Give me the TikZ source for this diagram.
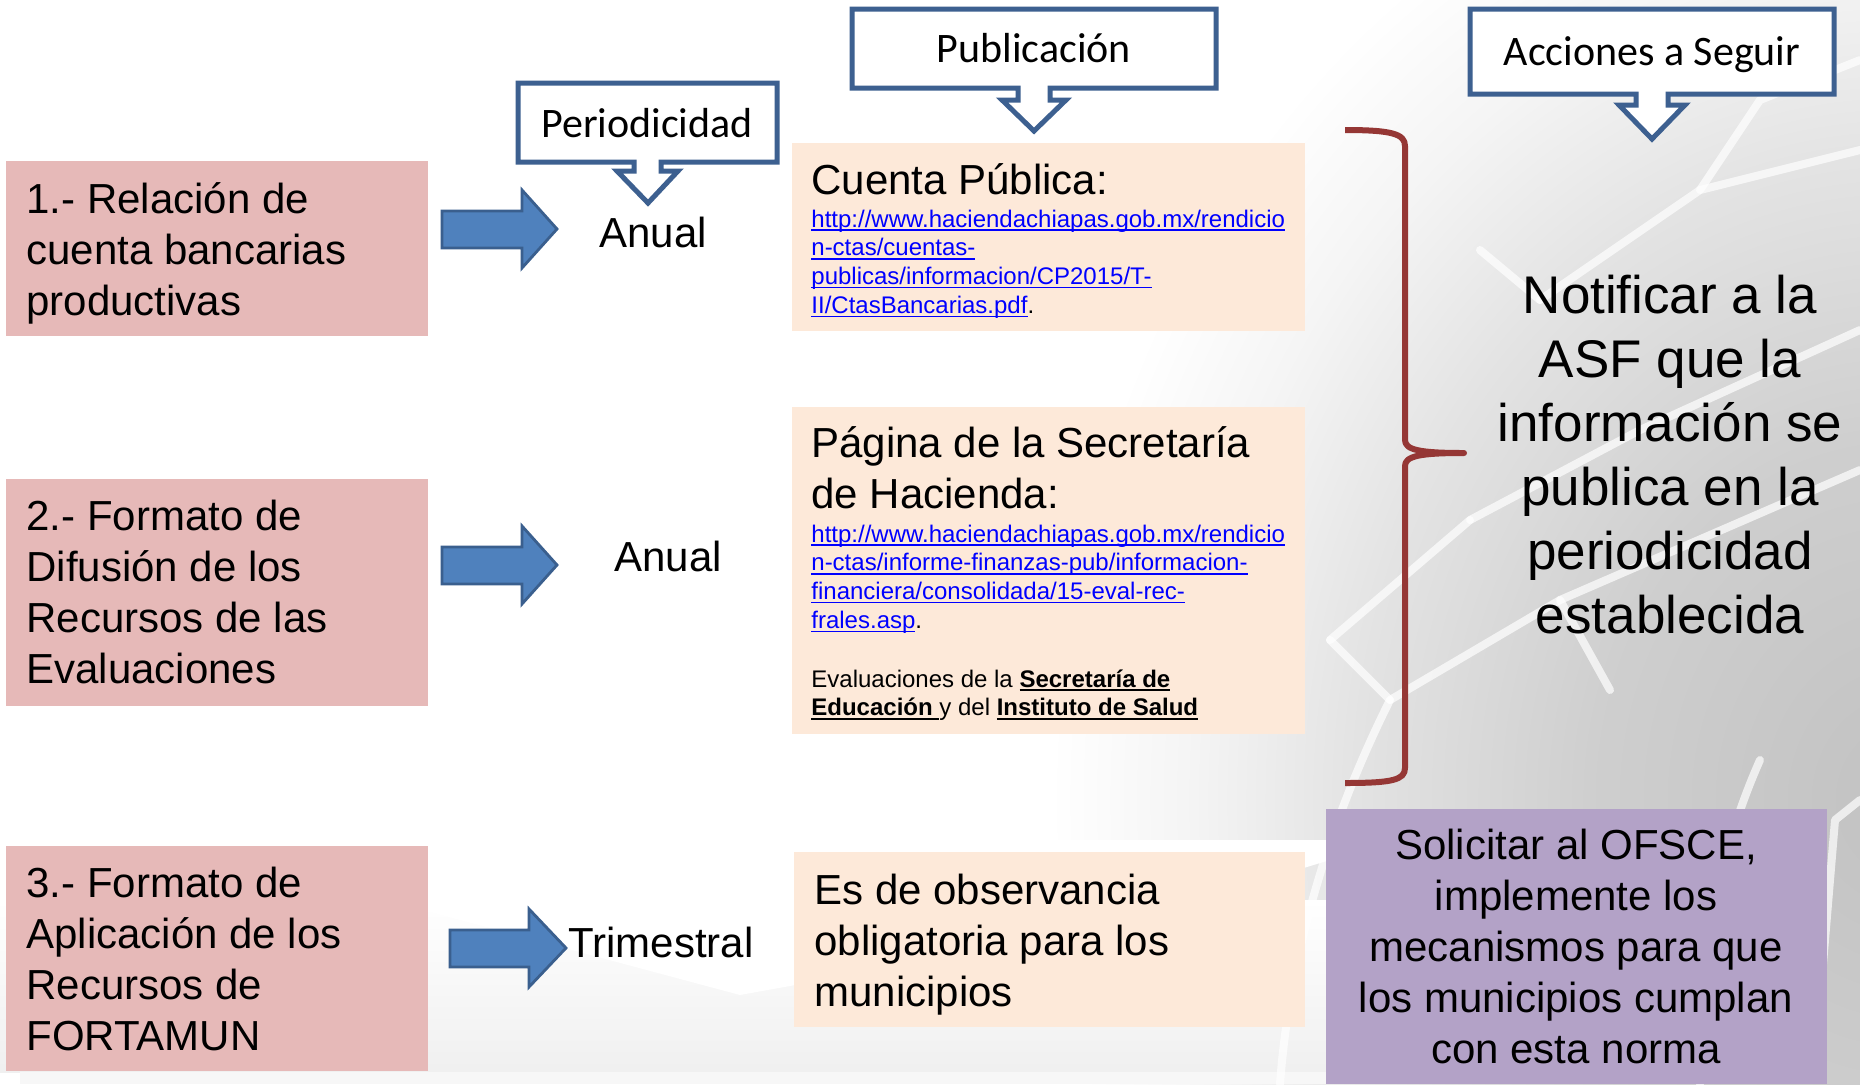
\documentclass[tikz,border=0pt]{standalone}
\usepackage{fontspec}
\setmainfont{Liberation Sans}
\newfontfamily\calfont{Carlito}
\definecolor{pinkbox}{HTML}{E6B9B8}
\definecolor{peach}{HTML}{FDE9D9}
\definecolor{lilac}{HTML}{B3A2C7}
\definecolor{arrowfill}{HTML}{4F81BD}
\definecolor{arrowline}{HTML}{3A5F8E}
\definecolor{callline}{HTML}{3D6090}
\definecolor{bracecol}{HTML}{953735}
\definecolor{urlblue}{HTML}{0000FF}
\pgfdeclareradialshading{bgrad}{\pgfpoint{0bp}{0bp}}{color(0bp)=(black!24); color(9bp)=(black!19); color(16bp)=(black!11); color(21bp)=(black!4); color(25bp)=(white); color(50bp)=(white)}
\newsavebox{\ulbox}
\newcommand{\ul}[1]{\leavevmode\sbox{\ulbox}{#1}\rlap{\rule[-1.9pt]{\wd\ulbox}{0.8pt}}\usebox{\ulbox}}
\begin{document}
\begin{tikzpicture}[x=0.5pt,y=-0.5pt,
  boxstyle/.style={draw=none,inner sep=0,outer sep=0,anchor=north west},
  bigtxt/.style={inner sep=0,anchor=base west,font=\fontsize{21}{25.5}\selectfont},
  urltxt/.style={inner sep=0,anchor=base west,font=\fontsize{12}{14.4}\selectfont},
  calltxt/.style={inner sep=0,anchor=base,font=\calfont\fontsize{21}{25}\selectfont},
  callout/.style={draw=callline,line width=2.5pt,fill=white,line join=miter},
  bluearrow/.style={draw=arrowline,line width=1.4pt,fill=arrowfill,line join=miter},
  webline/.style={draw=white,line width=4pt,opacity=0.7,line cap=round,line join=round}]
\useasboundingbox (0,0) rectangle (1860,1084);
\fill[white] (0,0) rectangle (1860,1084);
% background
\begin{scope}
\clip (0,0) rectangle (1860,1084);
\shade[shading=bgrad] (1900,800) ellipse (850 and 1000);
\shade[top color=white, bottom color=black!6] (0,900) rectangle (1330,1072);
\fill[white] (0,900) -- (430,912) -- (740,995) -- (1100,930) -- (1330,860) -- (1330,840) -- (0,840) -- cycle;
\fill[black!3] (20,1072) rectangle (1330,1084);
\draw[webline] (1280,1084) .. controls (1290,950) and (1330,820) .. (1390,700);
\draw[webline] (1390,700) -- (1560,600) -- (1860,470);
\draw[webline] (1390,700) -- (1330,640);
\draw[webline] (1470,520) -- (1640,430) -- (1860,330);
\draw[webline] (1560,600) -- (1610,690);
\draw[webline] (1700,1084) .. controls (1700,950) and (1720,850) .. (1760,760);
\draw[webline] (1820,1000) -- (1835,820) -- (1860,800);
\draw[webline] (1540,300) -- (1700,190) -- (1860,150);
\draw[webline] (1700,190) -- (1760,100) -- (1860,60);
\draw[webline] (1480,250) -- (1540,300);
\draw[webline] (1330,640) -- (1470,520);
\end{scope}
% left pink boxes
\node[boxstyle,fill=pinkbox,minimum width=211pt,minimum height=87.5pt] (b1) at (6,161) {};
\node[boxstyle,fill=pinkbox,minimum width=211pt,minimum height=113.5pt] (b2) at (6,479) {};
\node[boxstyle,fill=pinkbox,minimum width=211pt,minimum height=112.5pt] (b3) at (6,846) {};
\node[bigtxt] (t1) at (26,213) {\parbox[t]{200pt}{\raggedright 1.- Relación de\\cuenta bancarias\\productivas}};
\node[bigtxt] (t2) at (26,530) {\parbox[t]{200pt}{\raggedright 2.- Formato de\\Difusión de los\\Recursos de las\\Evaluaciones}};
\node[bigtxt] (t3) at (26,897) {\parbox[t]{200pt}{\raggedright 3.- Formato de\\Aplicación de los\\Recursos de\\FORTAMUN}};
% blue arrows
\draw[bluearrow] (442,211) -- (522,211) -- (522,190) -- (557,229) -- (522,268) -- (522,248) -- (442,248) -- cycle;
\draw[bluearrow] (442,547) -- (522,547) -- (522,526) -- (557,565) -- (522,604) -- (522,584) -- (442,584) -- cycle;
\draw[bluearrow] (450,930) -- (529,930) -- (529,909) -- (566,948) -- (529,987) -- (529,967) -- (450,967) -- cycle;
\node[bigtxt] (p1) at (599,247) {Anual};
\node[bigtxt] (p2) at (614,571) {Anual};
\node[bigtxt] (p3) at (568,957) {Trimestral};
% callouts
\draw[callout] (518,83) -- (777,83) -- (777,162) -- (661,162) -- (661,171) -- (678,171) -- (648,203) -- (617,171) -- (634,171) -- (634,162) -- (518,162) -- cycle;
\node[calltxt] (h1) at (647,137) {Periodicidad};
\draw[callout] (852,9) -- (1216,9) -- (1216,88) -- (1050,88) -- (1050,100) -- (1066,100) -- (1034,131) -- (1002,100) -- (1018,100) -- (1018,88) -- (852,88) -- cycle;
\node[calltxt] (h2) at (1034,62) {Publicación};
\draw[callout] (1470,9) -- (1834,9) -- (1834,94) -- (1668,94) -- (1668,105) -- (1685,105) -- (1652,139) -- (1619,105) -- (1636,105) -- (1636,94) -- (1470,94) -- cycle;
\node[calltxt] (h3) at (1652,65) {Acciones a Seguir};
% peach boxes
\node[boxstyle,fill=peach,minimum width=256.5pt,minimum height=94pt] (pa) at (792,143) {};
\node[boxstyle,fill=peach,minimum width=256.5pt,minimum height=163.5pt] (pb) at (792,407) {};
\node[boxstyle,fill=peach,minimum width=255.5pt,minimum height=87.5pt] (pc) at (794,852) {};
\node[bigtxt] (ta) at (811,194) {Cuenta Pública:};
\node[urltxt,text=urlblue] (ua) at (811,227) {\parbox[t]{250pt}{\raggedright\ul{http://www.haciendachiapas.gob.mx/rendicio}\\\ul{n-ctas/cuentas-}\\\ul{publicas/informacion/CP2015/T-}\\\ul{II/CtasBancarias.pdf}\textcolor{black}{.}}};
\node[bigtxt] (tb) at (811,457) {\parbox[t]{250pt}{\raggedright Página de la Secretaría\\de Hacienda:}};
\node[urltxt,text=urlblue] (ub) at (811,542) {\parbox[t]{250pt}{\raggedright\ul{http://www.haciendachiapas.gob.mx/rendicio}\\\ul{n-ctas/informe-finanzas-pub/informacion-}\\\ul{financiera/consolidada/15-eval-rec-}\\\ul{frales.asp}\textcolor{black}{.}}};
\node[urltxt] (eb) at (811,687) {\parbox[t]{250pt}{\raggedright Evaluaciones de la \ul{\textbf{Secretaría de}}\\\ul{\textbf{Educación}\ }y del \ul{\textbf{Instituto de Salud}}}};
\node[bigtxt] (tc) at (814,904) {\parbox[t]{250pt}{\raggedright Es de observancia\\obligatoria para los\\municipios}};
% brace
\draw[draw=bracecol,line width=3pt,line cap=butt,line join=round]
  (1345,130) .. controls (1392,130) and (1405,134) .. (1405,146)
  -- (1405,440) .. controls (1405,450) and (1420,453) .. (1464,453)
  .. controls (1420,453) and (1405,456) .. (1405,466)
  -- (1405,768) .. controls (1405,780) and (1392,783) .. (1345,783);
\coordinate (bracetip) at (1464,453);
% right texts
\node[inner sep=0,anchor=base,font=\fontsize{26.5}{32}\selectfont] (notif) at (1670,313) {\parbox[t]{190pt}{\centering Notificar a la\\ASF que la\\información se\\publica en la\\periodicidad\\establecida}};
\node[boxstyle,fill=lilac,minimum width=250.5pt,minimum height=137.5pt] (pd) at (1326,809) {};
\node[inner sep=0,anchor=base,font=\fontsize{21}{25.6}\selectfont] (solic) at (1576,859) {\parbox[t]{240pt}{\centering Solicitar al OFSCE,\\implemente los\\mecanismos para que\\los municipios cumplan\\con esta norma}};
\end{tikzpicture}
\end{document}
